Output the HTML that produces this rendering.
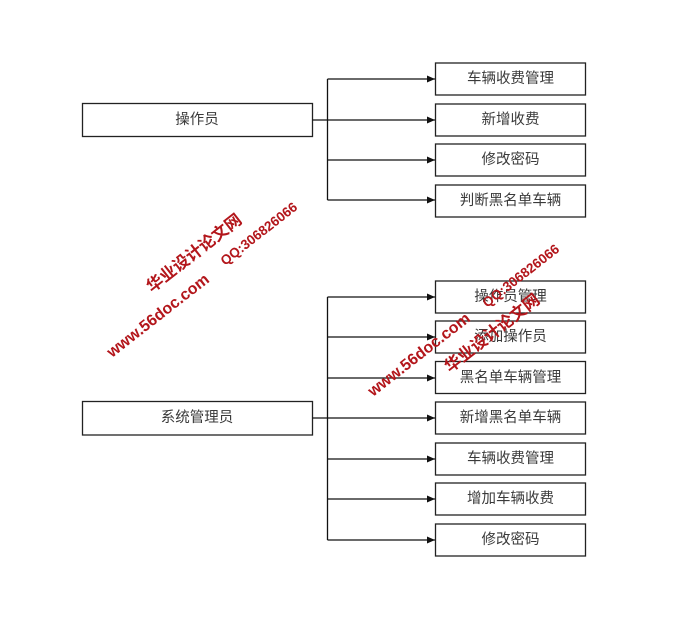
<!DOCTYPE html>
<html>
<head>
<meta charset="utf-8">
<style>
html,body{margin:0;padding:0;background:#fff;}
svg{display:block;}
.box{fill:#fff;stroke:#222;stroke-width:1.3;}
.ln{stroke:#111;stroke-width:1.3;fill:none;}
.lbl{font-family:"Liberation Sans","Noto Sans CJK SC",sans-serif;font-size:14.5px;fill:#3a3a3a;text-anchor:middle;dominant-baseline:central;}
.wm{fill:#b3161b;font-family:"Liberation Sans","Noto Sans CJK SC",sans-serif;}
.w1{font-size:16px;font-weight:bold;}
.w2{font-size:16.5px;font-weight:bold;}
.w3{font-size:13.5px;font-weight:bold;}
</style>
</head>
<body>
<svg width="700" height="622" viewBox="0 0 700 622" xmlns="http://www.w3.org/2000/svg">
<defs>
<marker id="ah" markerWidth="8" markerHeight="8" refX="8" refY="4" orient="auto" markerUnits="userSpaceOnUse">
<path d="M0,0.5 L8,4 L0,7.5 Z" fill="#111"/>
</marker>
</defs>

<!-- top group -->
<rect class="box" x="82.5" y="103.5" width="230" height="33"/>
<text class="lbl" x="197" y="120">操作员</text>
<path class="ln" d="M312.5,120 H327.5 M327.5,79 V200"/>
<path class="ln" d="M327.5,79 H435" marker-end="url(#ah)"/>
<path class="ln" d="M327.5,120 H435" marker-end="url(#ah)"/>
<path class="ln" d="M327.5,160 H435" marker-end="url(#ah)"/>
<path class="ln" d="M327.5,200 H435" marker-end="url(#ah)"/>

<rect class="box" x="435.5" y="63" width="150" height="32"/>
<text class="lbl" x="510.5" y="79">车辆收费管理</text>
<rect class="box" x="435.5" y="104" width="150" height="32"/>
<text class="lbl" x="510.5" y="120">新增收费</text>
<rect class="box" x="435.5" y="144" width="150" height="32"/>
<text class="lbl" x="510.5" y="160">修改密码</text>
<rect class="box" x="435.5" y="185" width="150" height="32"/>
<text class="lbl" x="510.5" y="201">判断黑名单车辆</text>

<!-- bottom group -->
<rect class="box" x="82.5" y="401.5" width="230" height="33.5"/>
<text class="lbl" x="197" y="418">系统管理员</text>
<path class="ln" d="M312.5,418 H327.5 M327.5,297 V540"/>
<path class="ln" d="M327.5,297 H435" marker-end="url(#ah)"/>
<path class="ln" d="M327.5,337 H435" marker-end="url(#ah)"/>
<path class="ln" d="M327.5,378 H435" marker-end="url(#ah)"/>
<path class="ln" d="M327.5,418 H435" marker-end="url(#ah)"/>
<path class="ln" d="M327.5,459 H435" marker-end="url(#ah)"/>
<path class="ln" d="M327.5,499 H435" marker-end="url(#ah)"/>
<path class="ln" d="M327.5,540 H435" marker-end="url(#ah)"/>

<rect class="box" x="435.5" y="281" width="150" height="32"/>
<text class="lbl" x="510.5" y="297">操作员管理</text>
<rect class="box" x="435.5" y="321" width="150" height="32"/>
<text class="lbl" x="510.5" y="337">添加操作员</text>
<rect class="box" x="435.5" y="361.5" width="150" height="32"/>
<text class="lbl" x="510.5" y="378">黑名单车辆管理</text>
<rect class="box" x="435.5" y="402" width="150" height="32"/>
<text class="lbl" x="510.5" y="418">新增黑名单车辆</text>
<rect class="box" x="435.5" y="443" width="150" height="32"/>
<text class="lbl" x="510.5" y="459">车辆收费管理</text>
<rect class="box" x="435.5" y="483" width="150" height="32"/>
<text class="lbl" x="510.5" y="499">增加车辆收费</text>
<rect class="box" x="435.5" y="524" width="150" height="32"/>
<text class="lbl" x="510.5" y="540">修改密码</text>

<!-- watermark 1 -->
<text class="wm w1" x="112" y="358" transform="rotate(-38 112 358)">www.56doc.com</text>
<text class="wm w3" x="225" y="266" transform="rotate(-38 225 266)">QQ:306826066</text>
<text class="wm w2" x="152" y="293" transform="rotate(-38 152 293)">华业设计论文网</text>

<!-- watermark 2 -->
<text class="wm w1" x="373" y="397" transform="rotate(-38 373 397)">www.56doc.com</text>
<text class="wm w3" x="487" y="308" transform="rotate(-38 487 308)">QQ:306826066</text>
<text class="wm w2" x="450" y="373" transform="rotate(-38 450 373)">华业设计论文网</text>
</svg>
</body>
</html>
